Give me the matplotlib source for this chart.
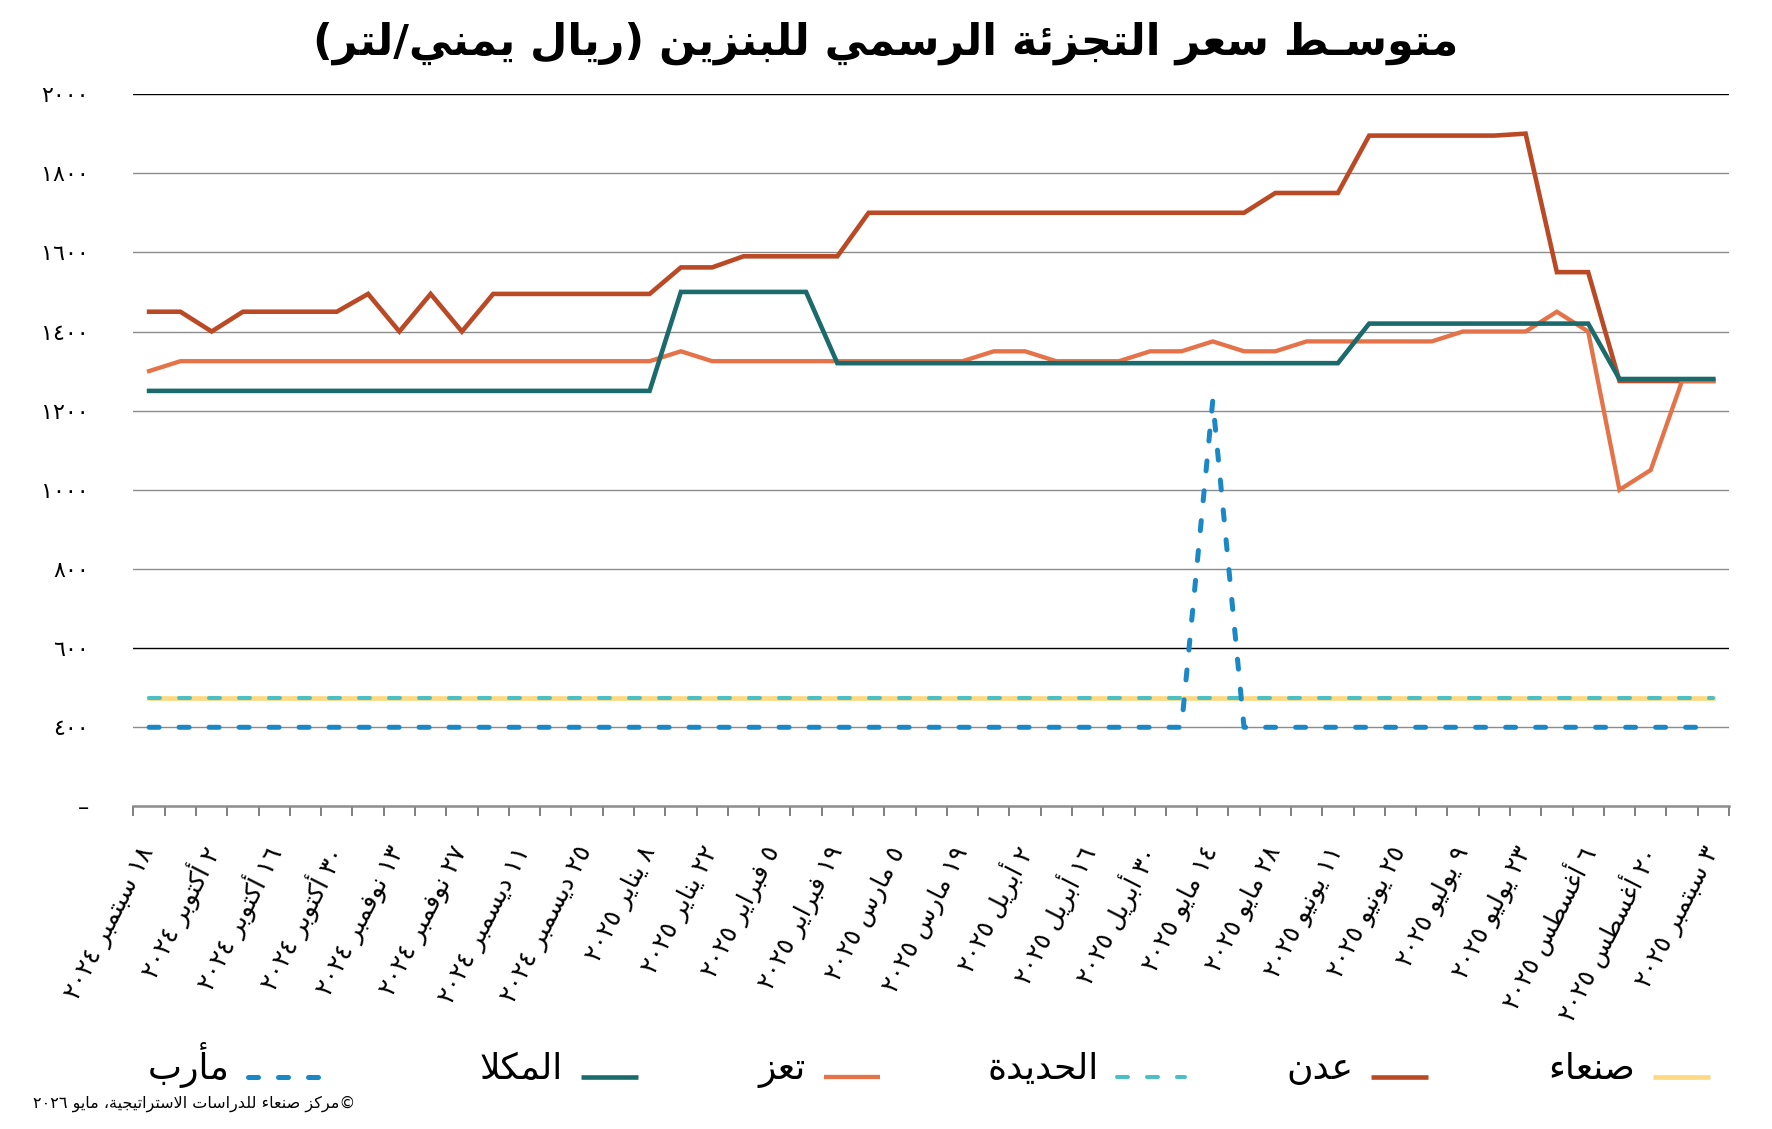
import re
import numpy as np
import matplotlib
matplotlib.use('Agg')
import matplotlib.pyplot as plt
from matplotlib.lines import Line2D

plt.rcParams['font.family'] = ['DejaVu Sans']
plt.rcParams['lines.scale_dashes'] = False

# ---- data (weekly, 18 Sep 2024 .. 3 Sep 2025) ----
date_labels = ['١٨ سبتمبر ٢٠٢٤', '٢ أكتوبر ٢٠٢٤', '١٦ أكتوبر ٢٠٢٤', '٣٠ أكتوبر ٢٠٢٤',
               '١٣ نوفمبر ٢٠٢٤', '٢٧ نوفمبر ٢٠٢٤', '١١ ديسمبر ٢٠٢٤', '٢٥ ديسمبر ٢٠٢٤',
               '٨ يناير ٢٠٢٥', '٢٢ يناير ٢٠٢٥', '٥ فبراير ٢٠٢٥', '١٩ فبراير ٢٠٢٥',
               '٥ مارس ٢٠٢٥', '١٩ مارس ٢٠٢٥', '٢ أبريل ٢٠٢٥', '١٦ أبريل ٢٠٢٥',
               '٣٠ أبريل ٢٠٢٥', '١٤ مايو ٢٠٢٥', '٢٨ مايو ٢٠٢٥', '١١ يونيو ٢٠٢٥',
               '٢٥ يونيو ٢٠٢٥', '٩ يوليو ٢٠٢٥', '٢٣ يوليو ٢٠٢٥', '٦ أغسطس ٢٠٢٥',
               '٢٠ أغسطس ٢٠٢٥', '٣ سبتمبر ٢٠٢٥']

sanaa = [475] * 51
aden = ([1450, 1450, 1400, 1450, 1450, 1450, 1450, 1495, 1400, 1495, 1400]
        + [1495] * 6 + [1562] * 2 + [1590] * 4 + [1700] * 13 + [1750] * 3
        + [1895] * 5 + [1900] + [1550] * 2 + [1275] * 4)
hodeidah = [475] * 51
taiz = ([1300] + [1325] * 16 + [1350] + [1325] * 9 + [1350] * 2 + [1325] * 3
        + [1350] * 2 + [1375] + [1350] * 2 + [1375] * 5 + [1400] * 3
        + [1450, 1400, 1000, 1050, 1275, 1275])
mukalla = [1250] * 17 + [1500] * 5 + [1320] * 17 + [1420] * 8 + [1280] * 4
marib = [400] * 34 + [1225] + [400] * 16

series_names = ['صنعاء', 'عدن', 'الحديدة', 'تعز', 'المكلا', 'مأرب']
y_ticks = [200, 400, 600, 800, 1000, 1200, 1400, 1600, 1800, 2000]

title = 'متوسـط سعر التجزئة الرسمي للبنزين (ريال يمني/لتر)'
source = '©مركز صنعاء للدراسات الاستراتيجية، مايو ٢٠٢٦'

# ---- minimal arabic shaping + visual reordering (matplotlib has no bidi) ----
FORMS = {'ء': (0xFE80, 1), 'آ': (0xFE81, 2), 'أ': (0xFE83, 2), 'ؤ': (0xFE85, 2),
         'إ': (0xFE87, 2), 'ئ': (0xFE89, 4), 'ا': (0xFE8D, 2), 'ب': (0xFE8F, 4),
         'ة': (0xFE93, 2), 'ت': (0xFE95, 4), 'ث': (0xFE99, 4), 'ج': (0xFE9D, 4),
         'ح': (0xFEA1, 4), 'خ': (0xFEA5, 4), 'د': (0xFEA9, 2), 'ذ': (0xFEAB, 2),
         'ر': (0xFEAD, 2), 'ز': (0xFEAF, 2), 'س': (0xFEB1, 4), 'ش': (0xFEB5, 4),
         'ص': (0xFEB9, 4), 'ض': (0xFEBD, 4), 'ط': (0xFEC1, 4), 'ظ': (0xFEC5, 4),
         'ع': (0xFEC9, 4), 'غ': (0xFECD, 4), 'ف': (0xFED1, 4), 'ق': (0xFED5, 4),
         'ك': (0xFED9, 4), 'ل': (0xFEDD, 4), 'م': (0xFEE1, 4), 'ن': (0xFEE5, 4),
         'ه': (0xFEE9, 4), 'و': (0xFEED, 2), 'ى': (0xFEEF, 2), 'ي': (0xFEF1, 4)}
LAM_ALEF = {'آ': 0xFEF5, 'أ': 0xFEF7, 'إ': 0xFEF9, 'ا': 0xFEFB}
TATWEEL = '\u0640'


def joins_next(c):
    return c == TATWEEL or (c in FORMS and FORMS[c][1] == 4)


def joins_prev(c):
    return c == TATWEEL or (c in FORMS and FORMS[c][1] >= 2)


def shape(s):
    out = []
    i = 0
    while i < len(s):
        c = s[i]
        prev = s[i - 1] if i > 0 else ''
        nxt = s[i + 1] if i + 1 < len(s) else ''
        if c == 'ل' and nxt in LAM_ALEF:
            out.append(chr(LAM_ALEF[nxt] + (1 if joins_next(prev) else 0)))
            i += 2
            continue
        if c in FORMS:
            base, n = FORMS[c]
            p, q = joins_next(prev), joins_prev(nxt)
            if n == 4:
                off = 3 if (p and q) else 1 if p else 2 if q else 0
            elif n == 2:
                off = 1 if p else 0
            else:
                off = 0
            out.append(chr(base + off))
        else:
            out.append(c)
        i += 1
    return ''.join(out)


def ar(s):
    v = shape(s)[::-1]
    v = re.sub(r'[0-9\u0660-\u0669]+', lambda m: m.group(0)[::-1], v)
    return v.translate(str.maketrans('()', ')('))


def ar_num(n):
    return str(n).translate(str.maketrans('0123456789', '٠١٢٣٤٥٦٧٨٩'))


def dash_for(lw):
    on = 15 * 0.72 - lw
    return [on, 30 * 0.72 - on]


# ---- figure ----
fig = plt.figure(figsize=(17.72, 11.29), dpi=100)
ax = fig.add_axes([0.0753, 0.2857, 0.9004, 0.631])

x = np.arange(len(aden))
colors = ['#FDD982', '#BA4A26', '#4BBFC3', '#E5734A', '#1B6B6C', '#1A88C7']
widths = [3.4, 3.3, 2.9, 3.1, 3.3, 3.6]
styles = ['solid', 'solid', 'dash', 'solid', 'solid', 'dash']
data = [sanaa, aden, hodeidah, taiz, mukalla, marib]

for vals, col, lw, st in zip(data, colors, widths, styles):
    if st == 'solid':
        ax.plot(x, vals, color=col, lw=lw, solid_joinstyle='miter', zorder=3)
    else:
        ax.plot(x, vals, color=col, lw=lw, dashes=dash_for(lw),
                dash_capstyle='round', zorder=3)

ax.set_xlim(-0.5, len(aden) - 0.5)
ax.set_ylim(200, 2000)

ax.set_yticks(y_ticks)
ax.set_yticklabels(['–'] + [ar_num(v) for v in y_ticks[1:]], fontsize=16)
ax.tick_params(axis='y', length=0, pad=32)
ax.grid(axis='y', color='#8C8C8C', lw=1.0)
for val, gl in zip(y_ticks, ax.get_ygridlines()):
    if val in (600, 2000):
        gl.set_color('black')
    if val == 200:
        gl.set_visible(False)

ax.set_xticks(x[::2])
ax.set_xticklabels([ar(d) for d in date_labels], rotation=63, ha='right',
                   va='center', rotation_mode='anchor', fontsize=18)
ax.tick_params(axis='x', which='major', length=0, pad=30)
ax.set_xticks(np.arange(-0.5, len(aden)), minor=True)
ax.tick_params(axis='x', which='minor', length=7, width=1.4, color='#7F7F7F',
               direction='out')

for side in ['top', 'left', 'right']:
    ax.spines[side].set_visible(False)
ax.spines['bottom'].set_color('#8C8C8C')
ax.spines['bottom'].set_linewidth(1.8)

fig.text(0.5, 1 - 43 / 1129, ar(title), ha='center', va='center',
         fontsize=31, fontweight='bold')

# legend drawn right-to-left: text left of its line sample
leg_lines = [(1653, 1710), (1371, 1428), (1117, 1185), (824, 880), (581, 638), (248, 323)]
leg_y = 1 - 1077 / 1129
for name, col, lw, st, (x0, x1) in zip(series_names, colors, widths, styles, leg_lines):
    kw = dict(color=col, lw=lw, transform=fig.transFigure)
    if st == 'dash':
        kw.update(dashes=dash_for(lw), dash_capstyle='round')
    else:
        kw.update(solid_capstyle='butt')
    fig.add_artist(Line2D([x0 / 1772, x1 / 1772], [leg_y, leg_y], **kw))
    fig.text((x0 - 18) / 1772, 1 - 1079 / 1129, ar(name), ha='right',
             va='baseline', fontsize=26)

fig.text(355 / 1772, 1 - 1108 / 1129, ar(source), ha='right', va='baseline',
         fontsize=11.5)

fig.savefig('out.png', dpi=100)
